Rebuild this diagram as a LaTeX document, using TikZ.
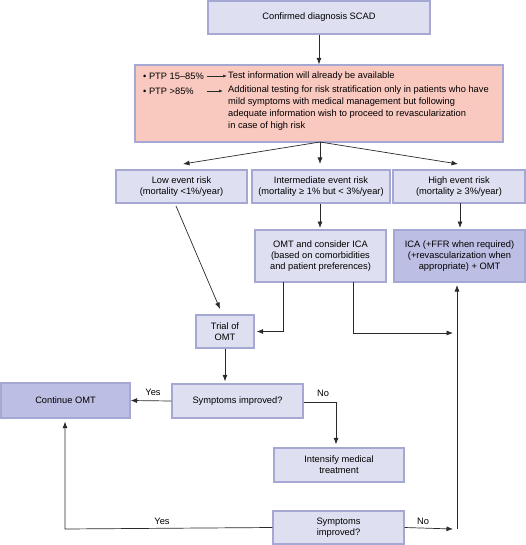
\documentclass[tikz,border=0pt]{standalone}
\usepackage{fontspec}
\setmainfont{Liberation Sans}
\usetikzlibrary{arrows.meta,calc}
\definecolor{boxfill}{HTML}{DEDFF0}
\definecolor{darkfill}{HTML}{BDBEE3}
\definecolor{boxline}{HTML}{A6A8D4}
\definecolor{pinkfill}{HTML}{F9C9C0}
\definecolor{linegray}{HTML}{2A2A2A}
\tikzset{
  box/.style={draw=boxline, line width=1.3pt, fill=boxfill, align=center, inner sep=0pt, font=\fontsize{9.3}{11}\selectfont},
  darkbox/.style={box, fill=darkfill},
  conn/.style={draw=linegray, line width=0.7pt, -{Latex[length=6.5pt,width=5pt]}},
  lbl/.style={font=\fontsize{9.3}{10}\selectfont, inner sep=0pt},
  ptxt/.style={font=\fontsize{9.3}{11.7}\selectfont, inner sep=0pt, anchor=west, align=left},
}
\begin{document}
\begin{tikzpicture}[x=1pt,y=-1pt]
\useasboundingbox (0,0) rectangle (526,545);
\node[box, minimum width=222pt, minimum height=33pt] (diag) at (319,17.5) {Confirmed diagnosis SCAD};
\node[box, fill=pinkfill, minimum width=368pt, minimum height=77pt] (pink) at (319,103.5) {};
\node[ptxt] (ptpA) at (143,76) {• PTP 15–85\%};
\node[ptxt] (ptpB) at (143,91) {• PTP >85\%};
\node[ptxt] (testA) at (228,76) {Test information will already be available};
\node[ptxt, anchor=north west] (testB) at (228,86) {Additional testing for risk stratification only in patients who have\\mild symptoms with medical management but following\\adequate information wish to proceed to revascularization\\in case of high risk};
\coordinate (aA) at (207,76);
\coordinate (aB) at (207,91);
\coordinate (bB) at (223,91);
\draw[conn, -{Latex[length=4pt,width=3pt]}, line width=0.6pt, shorten >=1pt] (aA) -- (testA.west);
\draw[conn, -{Latex[length=4pt,width=3pt]}, line width=0.6pt] (aB) -- (bB);

\node[box, minimum width=131pt, minimum height=33pt] (low) at (181.5,186.5) {Low event risk\\(mortality <1\%/year)};
\node[box, minimum width=138pt, minimum height=33pt] (inter) at (321,186.5) {Intermediate event risk\\(mortality ≥ 1\% but < 3\%/year)};
\node[box, minimum width=132pt, minimum height=33pt] (high) at (459,186.5) {High event risk\\(mortality ≥ 3\%/year)};
\node[box, minimum width=131pt, minimum height=52pt] (omt) at (320.5,256) {OMT and consider ICA\\(based on comorbidities\\and patient preferences)};
\node[darkbox, minimum width=131pt, minimum height=52pt] (ica) at (459.5,256) {ICA (+FFR when required)\\(+revascularization when\\appropriate) + OMT};
\node[box, minimum width=58pt, minimum height=33pt] (trial) at (225,331.5) {Trial of\\OMT};
\node[box, minimum width=131pt, minimum height=34pt] (symp1) at (237.5,401) {Symptoms improved?};
\node[darkbox, minimum width=129pt, minimum height=35pt] (cont) at (65.5,400.5) {Continue OMT};
\node[box, minimum width=130pt, minimum height=34pt] (intens) at (339,465) {Intensify medical\\treatment};
\node[box, minimum width=131pt, minimum height=33pt] (symp2) at (338.5,527.5) {Symptoms\\improved?};

\coordinate (split) at (320,142);
\draw[conn] (diag.south) -- (pink.north);
\draw[conn] (split) -- (183,164);
\draw[conn] (split) -- (320,164);
\draw[conn] (split) -- (458,164);
\draw[conn, shorten >=2pt] (inter.south -| 320,0) -- (320,230);
\draw[conn, shorten >=2pt] (460,203) -- (460,230);
\coordinate (lowstart) at (176,206);
\coordinate (trialin) at (220,309);
\draw[conn] (lowstart) -- (trialin);
\coordinate (omtL) at (283,282);
\coordinate (omtR) at (353,282);
\coordinate (vx) at (457,529);
\coordinate (vxtop) at (457,285);
\coordinate (vmid) at (453,333);
\draw[conn, shorten >=2pt] (omtL) |- (trial.east);
\draw[conn] (omtR) |- (vmid);
\draw[conn] (vx) -- (vxtop);
\draw[conn, shorten >=2pt] (trial.south) -- (trial.south |- symp1.north);
\draw[conn] (symp1.west) -- node[lbl, above=5pt, pos=0.45] (yes1) {Yes} (cont.east);
\coordinate (noc) at (336,402);
\draw[conn, shorten >=3pt] (symp1.east |- noc) -- (noc) -- (noc |- intens.north);
\node[lbl] (no1) at (323,393) {No};
\coordinate (corner) at (65,529);
\draw[conn, shorten >=3pt] (symp2.west) -- (corner) -- (cont.south -| corner);
\node[lbl] (yes2) at (162,521) {Yes};
\draw[conn] (symp2.east) -- (453,529);
\node[lbl] (no2) at (423,521) {No};
\end{tikzpicture}
\end{document}
